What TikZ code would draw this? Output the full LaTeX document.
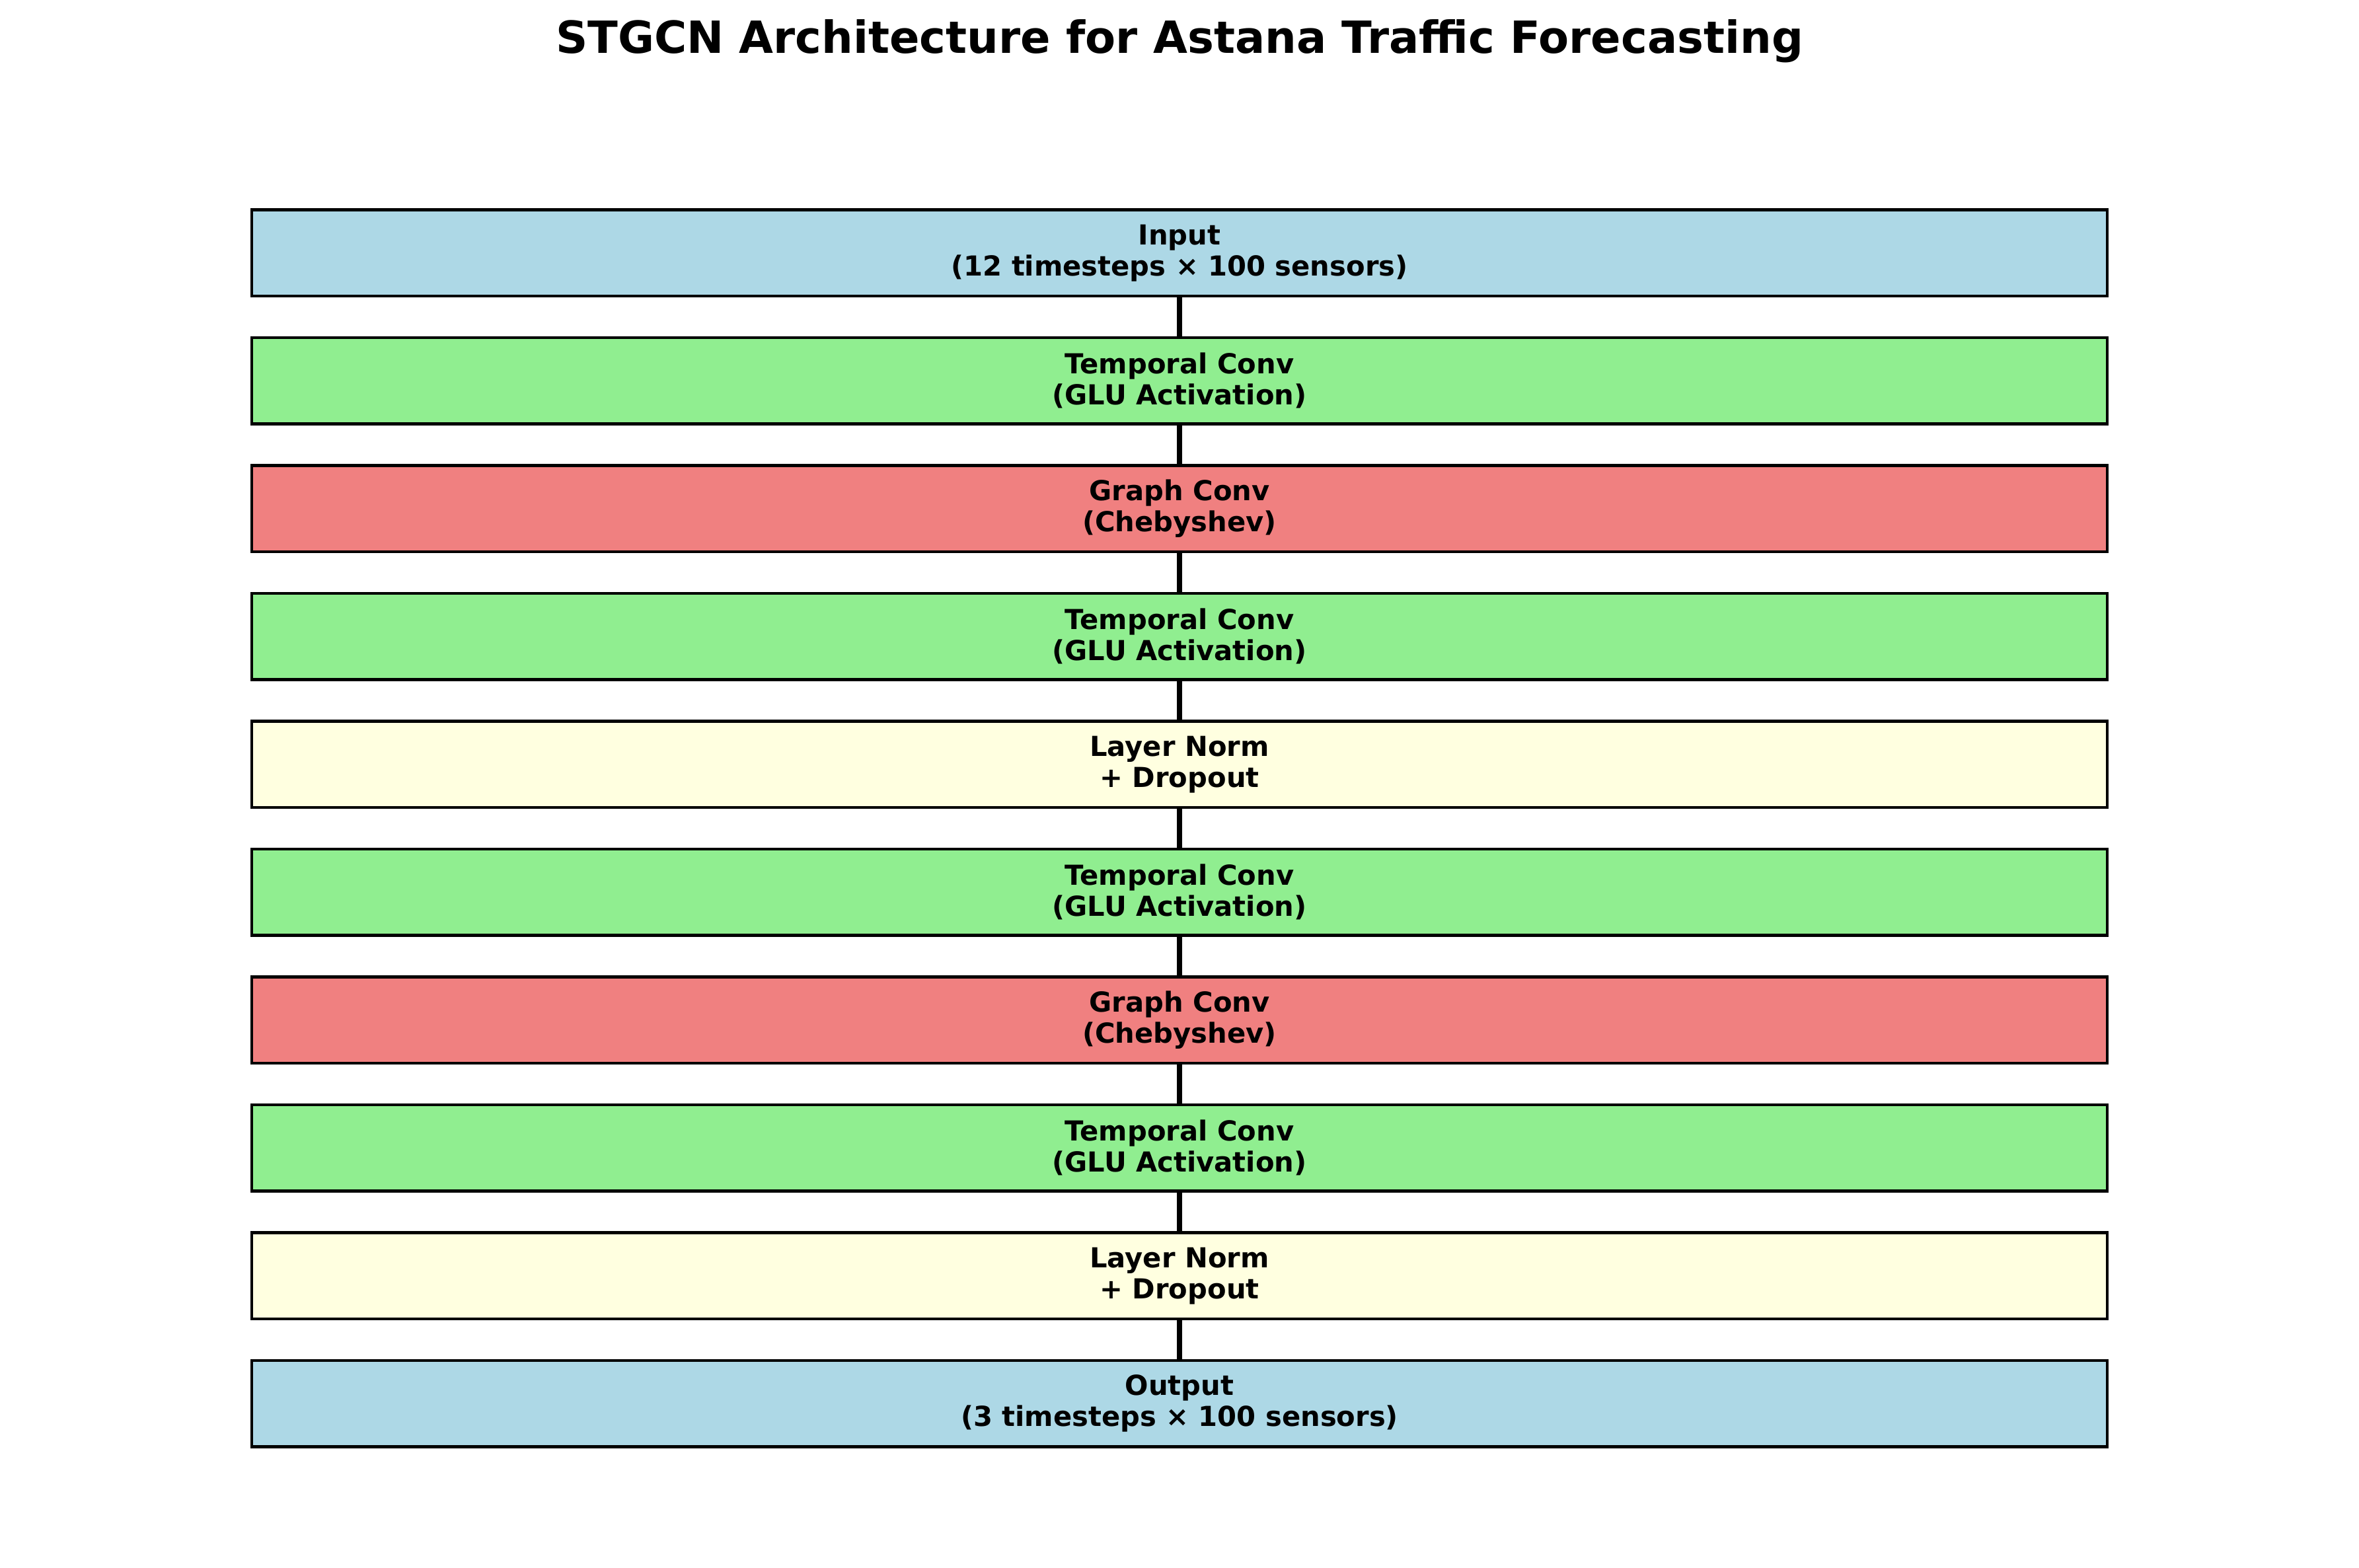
\documentclass[tikz,border=0pt]{standalone}
\usepackage{fontspec}
\setmainfont{DejaVu Sans}
\definecolor{lblue}{HTML}{ADD8E6}
\definecolor{lgreen}{HTML}{90EE90}
\definecolor{lcoral}{HTML}{F08080}
\definecolor{lyellow}{HTML}{FFFFE0}
\begin{document}
\begin{tikzpicture}[x=1pt,y=-1pt]
  \useasboundingbox (0,0) rectangle (856.8,569.52);
  \node[anchor=base,font=\fontsize{16.1}{19}\selectfont\bfseries] (title) at (428.4,19.44) {STGCN Architecture for Astana Traffic Forecasting};
  \begin{scope}[every node/.style={draw,line width=1pt,inner sep=0pt,minimum width=673.9pt,minimum height=31.3pt,align=center,font=\fontsize{10}{11.3}\selectfont\bfseries}]
  \node[fill=lblue] (inp) at (428.4,91.86) {Input\\(12 timesteps × 100 sensors)};
  \node[fill=lgreen] (t1) at (428.4,138.30) {Temporal Conv\\(GLU Activation)};
  \node[fill=lcoral] (g1) at (428.4,184.74) {Graph Conv\\(Chebyshev)};
  \node[fill=lgreen] (t2) at (428.4,231.18) {Temporal Conv\\(GLU Activation)};
  \node[fill=lyellow] (n1) at (428.4,277.62) {Layer Norm\\+ Dropout};
  \node[fill=lgreen] (t3) at (428.4,324.06) {Temporal Conv\\(GLU Activation)};
  \node[fill=lcoral] (g2) at (428.4,370.50) {Graph Conv\\(Chebyshev)};
  \node[fill=lgreen] (t4) at (428.4,416.94) {Temporal Conv\\(GLU Activation)};
  \node[fill=lyellow] (n2) at (428.4,463.38) {Layer Norm\\+ Dropout};
  \node[fill=lblue] (out) at (428.4,509.82) {Output\\(3 timesteps × 100 sensors)};
  \end{scope}
  \begin{scope}[every edge/.style={draw=black,line width=1.8pt}]
  \path (inp) edge (t1);
  \path (t1) edge (g1);
  \path (g1) edge (t2);
  \path (t2) edge (n1);
  \path (n1) edge (t3);
  \path (t3) edge (g2);
  \path (g2) edge (t4);
  \path (t4) edge (n2);
  \path (n2) edge (out);
  \end{scope}
\end{tikzpicture}
\end{document}
